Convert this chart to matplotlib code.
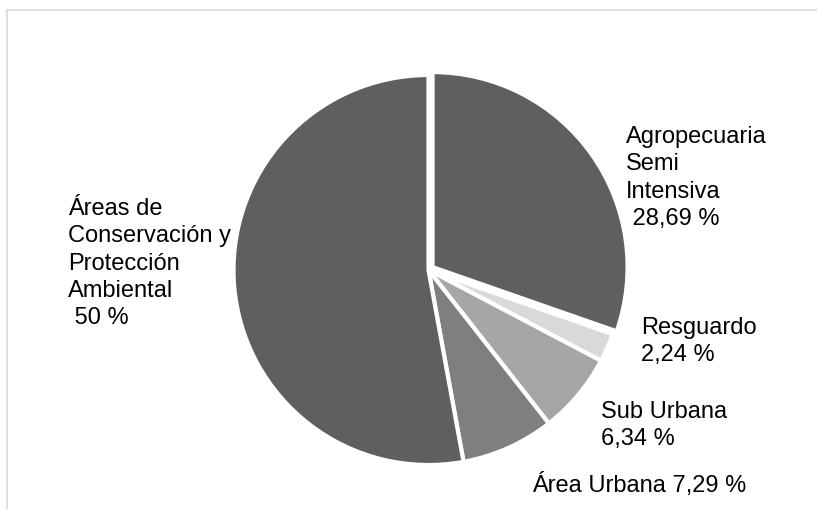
import matplotlib
matplotlib.use("Agg")
import matplotlib.pyplot as plt
from matplotlib.lines import Line2D

plt.rcParams['font.family'] = ['Liberation Sans', 'DejaVu Sans']

# data
categories = ["Agropecuaria\nSemi\nIntensiva", "Resguardo", "Sub Urbana",
              "Área Urbana", "Áreas de\nConservación y\nProtección\nAmbiental"]
values = [28.69, 2.24, 6.34, 7.29, 50]
value_labels = [" 28,69 %", "2,24 %", "6,34 %", "7,29 %", " 50 %"]
colors = ["#5f5f5f", "#d9d9d9", "#a6a6a6", "#7f7f7f", "#5f5f5f"]

W, H = 817, 510
fig = plt.figure(figsize=(W / 100, H / 100), dpi=100)
ax = fig.add_axes([0, 0, 1, 1])
ax.set_xlim(0, W)
ax.set_ylim(H, 0)
ax.axis("off")

# pie in a separate axes with y up
pax = fig.add_axes([0, 0, 1, 1])
pax.set_xlim(0, W)
pax.set_ylim(0, H)
pax.axis("off")
pax.pie(values, colors=colors, startangle=90, counterclock=False,
        center=(428.5, H - 271), radius=195,
        explode=[5, 0, 0, 0, 0],
        wedgeprops=dict(edgecolor="white", linewidth=3))
pax.set_aspect("equal")
pax.set_xlim(0, W)
pax.set_ylim(0, H)

# chart frame (top and left edges visible)
fig.add_artist(Line2D([7 / W, 1], [1 - 11 / H, 1 - 11 / H], color="#d9d9d9", lw=1.2))
fig.add_artist(Line2D([7 / W, 7 / W], [1 - 11 / H, 0], color="#d9d9d9", lw=1.2))

fs = 17
step = 27.3
# label anchors (x, first baseline y) in pixels from top-left
anchors = [(626, 143), (641, 334), (601, 418), (532, 492), (68, 215)]
for i, (name, val) in enumerate(zip(categories, value_labels)):
    x, y = anchors[i]
    if i == 3:
        lines = [name + " " + val]
    else:
        lines = name.split("\n") + [val]
    for j, line in enumerate(lines):
        ax.text(x, y + j * step, line, fontsize=fs, va="baseline", ha="left",
                color="black")

fig.savefig("out.png", dpi=100)
